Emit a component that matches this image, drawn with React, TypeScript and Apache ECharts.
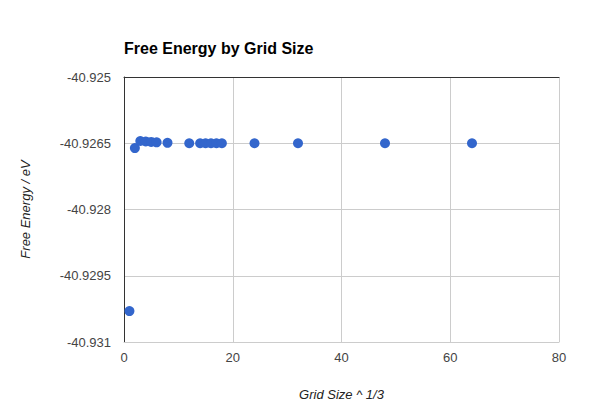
import React, { useEffect, useRef } from "react";
import * as echarts from "echarts";

const gridSizes = [1, 2, 3, 4, 5, 6, 8, 12, 14, 15, 16, 17, 18, 24, 32, 48, 64];
const freeEnergy = [
  -40.9303, -40.92661, -40.92645, -40.92646, -40.92647, -40.92648, -40.92649,
  -40.9265, -40.9265, -40.9265, -40.9265, -40.9265, -40.9265, -40.9265,
  -40.9265, -40.9265, -40.9265,
];
const xTicks = { min: 0, max: 80, interval: 20 };
const yTicks = { min: -40.931, max: -40.925, interval: 0.0015 };

export default function App() {
  const ref = useRef<HTMLDivElement>(null);
  useEffect(() => {
    if (!ref.current) return;
    const chart = echarts.init(ref.current, null, { renderer: "svg" });
    const font = "'Liberation Sans', Arial, sans-serif";
    chart.setOption({
      animation: false,
      textStyle: { fontFamily: font },
      title: {
        text: "Free Energy by Grid Size",
        left: 124,
        top: 40,
        padding: 0,
        textStyle: { fontSize: 16, fontWeight: "bold", color: "#000", fontFamily: font },
      },
      grid: { left: 124, right: 43, top: 77, bottom: 72 },
      xAxis: [
        {
          type: "value",
          min: xTicks.min,
          max: xTicks.max,
          interval: xTicks.interval,
          name: "Grid Size ^ 1/3",
          nameLocation: "middle",
          nameGap: 46,
          nameTextStyle: { fontStyle: "italic", fontSize: 13, color: "#222", fontFamily: font },
          axisLine: { show: true, lineStyle: { color: "#ccc" } },
          axisTick: { show: false },
          axisLabel: { fontSize: 13, color: "#444", margin: 9, fontFamily: font },
          splitLine: { show: true, lineStyle: { color: "#ccc" } },
        },
        {
          type: "value",
          position: "top",
          min: xTicks.min,
          max: xTicks.max,
          axisLine: { show: true, lineStyle: { color: "#333" } },
          axisTick: { show: false },
          axisLabel: { show: false },
          splitLine: { show: false },
        },
      ],
      yAxis: {
        type: "value",
        min: yTicks.min,
        max: yTicks.max,
        interval: yTicks.interval,
        name: "Free Energy / eV",
        nameLocation: "middle",
        nameGap: 92,
        nameTextStyle: { fontStyle: "italic", fontSize: 13, color: "#222", fontFamily: font },
        axisLine: { show: true, lineStyle: { color: "#333" } },
        axisTick: { show: false },
        axisLabel: {
          fontSize: 13,
          color: "#444",
          margin: 13,
          fontFamily: font,
          formatter: (v: number) => String(parseFloat(v.toFixed(4))),
        },
        splitLine: { show: true, lineStyle: { color: "#ccc" } },
      },
      series: [
        {
          type: "scatter",
          xAxisIndex: 0,
          data: gridSizes.map((x, i) => [x, freeEnergy[i]]),
          symbolSize: 10,
          itemStyle: { color: "#3366cc", opacity: 1 },
        },
      ],
    });
    return () => chart.dispose();
  }, []);
  return <div ref={ref} style={{ width: 602, height: 414, position: "absolute", left: 0, top: 0 }} />;
}
